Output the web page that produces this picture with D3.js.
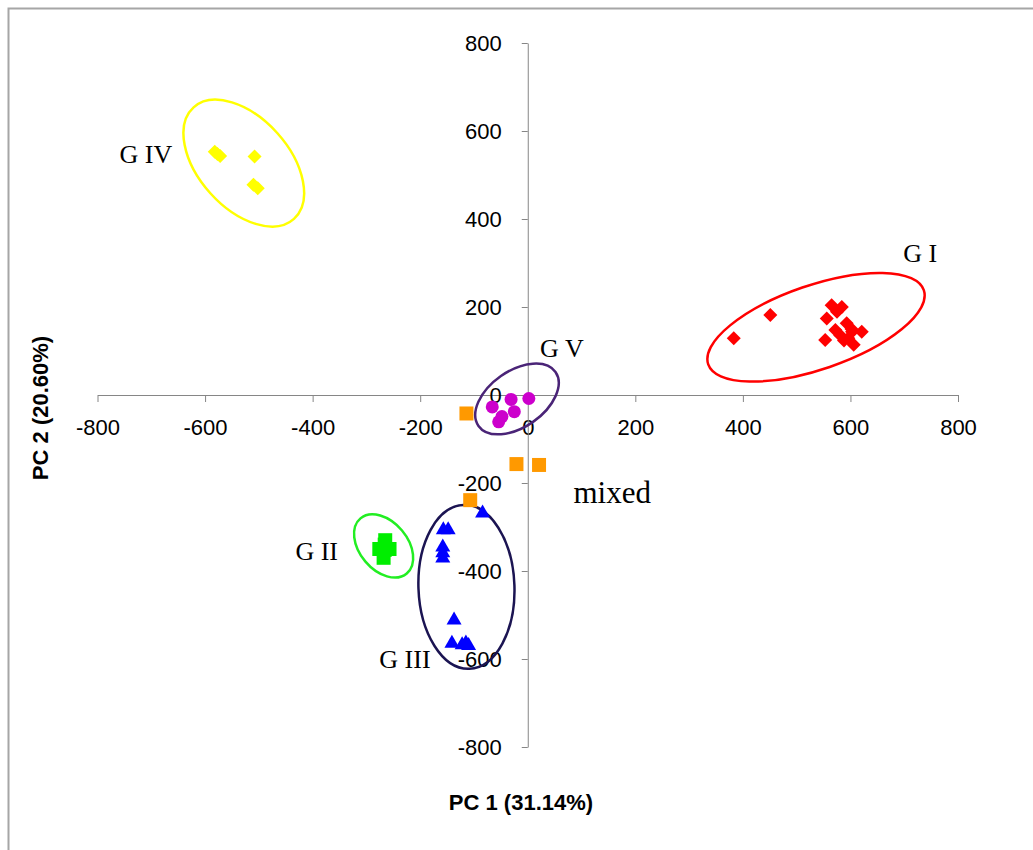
<!DOCTYPE html>
<meta charset="utf-8">
<style>
body { margin: 0; background: #fff; }
svg { display: block; }
.tick text { font-family: "Liberation Sans", Arial, sans-serif; font-size: 22px; fill: #000; }
.axis path, .axis line { stroke: #868686; }
.grp { font-family: "Liberation Serif", "Times New Roman", serif; font-size: 26px; fill: #000; }
.title { font-family: "Liberation Sans", Arial, sans-serif; font-size: 22px; font-weight: bold; fill: #000; }
</style>
<svg width="1033" height="850"></svg>
<script src="https://cdn.jsdelivr.net/npm/d3@7"></script>
<script>
// PCA scores, one array per group
var gI = [[383,129],[451,182],[565,204],[584,200],[575,189],[556,174],[593,163],[602,150],
          [621,144],[572,148],[553,125],[581,136],[596,129],[606,114],[603,144],[588,124]];
var gII = [[-265,-330],[-276,-350],[-257,-350],[-268,-370],[-266,-352],[-266,-340]];
var gIII = [[-84,-265],[-157,-303],[-148,-303],[-158,-342],[-158,-355],[-158,-367],
            [-137,-508],[-141,-561],[-122,-564],[-115,-560],[-110,-566]];
var gIV = [[-582,553],[-577,548],[-572,543],[-508,542],[-510,478],[-502,470]];
var gV = [[-66,-27],[-31,-10],[2,-8],[-25,-38],[-48,-49],[-54,-61]];
var mixed = [[-114,-42],[-21,-157],[21,-159],[-107,-239]];

var ticks = [-800,-600,-400,-200,0,200,400,600,800];

// group labels: text, anchor point in data units
var labels = [
  {t: "G I", x: 698, y: 302},
  {t: "G V", x: 23, y: 86},
  {t: "mixed", x: 85, y: -245, big: true},
  {t: "G II", x: -432, y: -375},
  {t: "G III", x: -276, y: -620},
  {t: "G IV", x: -759, y: 527}
];

// ellipses drawn round each group (centre in data units)
var rings = [
  {cx: 536, cy: 154, rx: 114, ry: 42, a: -19, c: "#ff0000"},
  {cx: -20, cy: -9, rx: 47, ry: 28, a: -35, c: "#4a2477"},
  {cx: -528, cy: 527, rx: 75, ry: 45, a: 48, c: "#ffff00"},
  {cx: -268, cy: -343, rx: 36, ry: 24, a: 50, c: "#22ee22"},
  {cx: -114, cy: -436, rx: 48, ry: 82, a: -2, c: "#1b1452"}
];

var svg = d3.select("svg");

// outer frame
svg.append("rect")
  .attr("x", 8.5).attr("y", 8.5)
  .attr("width", 1040).attr("height", 860)
  .attr("fill", "none").attr("stroke", "#a6a6a6").attr("stroke-width", 2);

var x = d3.scaleLinear().domain([-800, 800]).range([97.5, 958]);
var y = d3.scaleLinear().domain([-800, 800]).range([747, 43]);
var fmt = function(d) { return String(d); };

var xAxis = svg.append("g")
  .attr("class", "axis")
  .attr("transform", "translate(0," + y(0) + ")")
  .call(d3.axisBottom(x).tickValues(ticks).tickFormat(fmt).tickSize(7).tickSizeOuter(0).tickPadding(12));

var yAxis = svg.append("g")
  .attr("class", "axis")
  .attr("transform", "translate(" + x(0) + ",0)")
  .call(d3.axisLeft(y).tickValues(ticks).tickFormat(fmt).tickSize(6).tickSizeOuter(0).tickPadding(20));

svg.selectAll(".tick text").attr("font-family", null).attr("font-size", null);
xAxis.selectAll(".tick text").attr("dy", "0.95em");

// axis titles
svg.append("text").attr("class", "title")
  .attr("x", 521).attr("y", 810).attr("text-anchor", "middle")
  .text("PC 1 (31.14%)");
svg.append("text").attr("class", "title")
  .attr("transform", "translate(48,408) rotate(-90)")
  .attr("text-anchor", "middle")
  .text("PC 2 (20.60%)");

// ellipses
svg.append("g").selectAll("ellipse")
  .data(rings)
  .enter().append("ellipse")
  .attr("transform", function(d) { return "translate(" + x(d.cx) + "," + y(d.cy) + ") rotate(" + d.a + ")"; })
  .attr("rx", function(d) { return d.rx; })
  .attr("ry", function(d) { return d.ry; })
  .attr("fill", "none")
  .attr("stroke", function(d) { return d.c; })
  .attr("stroke-width", 2.5);

var diamond = "M0,-7L7,0L0,7L-7,0Z";
var square = "M-7,-7H7V7H-7Z";
var triangle = "M0,-7L7.5,6L-7.5,6Z";

function drawPoints(data, shape, colour) {
  var g = svg.append("g");
  if (shape == "circle") {
    g.selectAll("circle").data(data).enter().append("circle")
      .attr("cx", function(d) { return x(d[0]); })
      .attr("cy", function(d) { return y(d[1]); })
      .attr("r", 6.5)
      .attr("fill", colour);
  } else {
    g.selectAll("path").data(data).enter().append("path")
      .attr("d", shape)
      .attr("transform", function(d) { return "translate(" + x(d[0]) + "," + y(d[1]) + ")"; })
      .attr("fill", colour);
  }
}

drawPoints(gIV, diamond, "#ffff00");
drawPoints(gI, diamond, "#ff0000");
drawPoints(gV, "circle", "#cc00cc");
drawPoints(mixed, square, "#ff9900");
drawPoints(gII, square, "#00ee00");
drawPoints(gIII, triangle, "#0000ff");

svg.append("g").selectAll("text")
  .data(labels)
  .enter().append("text")
  .attr("class", "grp")
  .attr("x", function(d) { return x(d.x); })
  .attr("y", function(d) { return y(d.y); })
  .style("font-size", function(d) { return d.big ? "31px" : null; })
  .text(function(d) { return d.t; });
</script>
